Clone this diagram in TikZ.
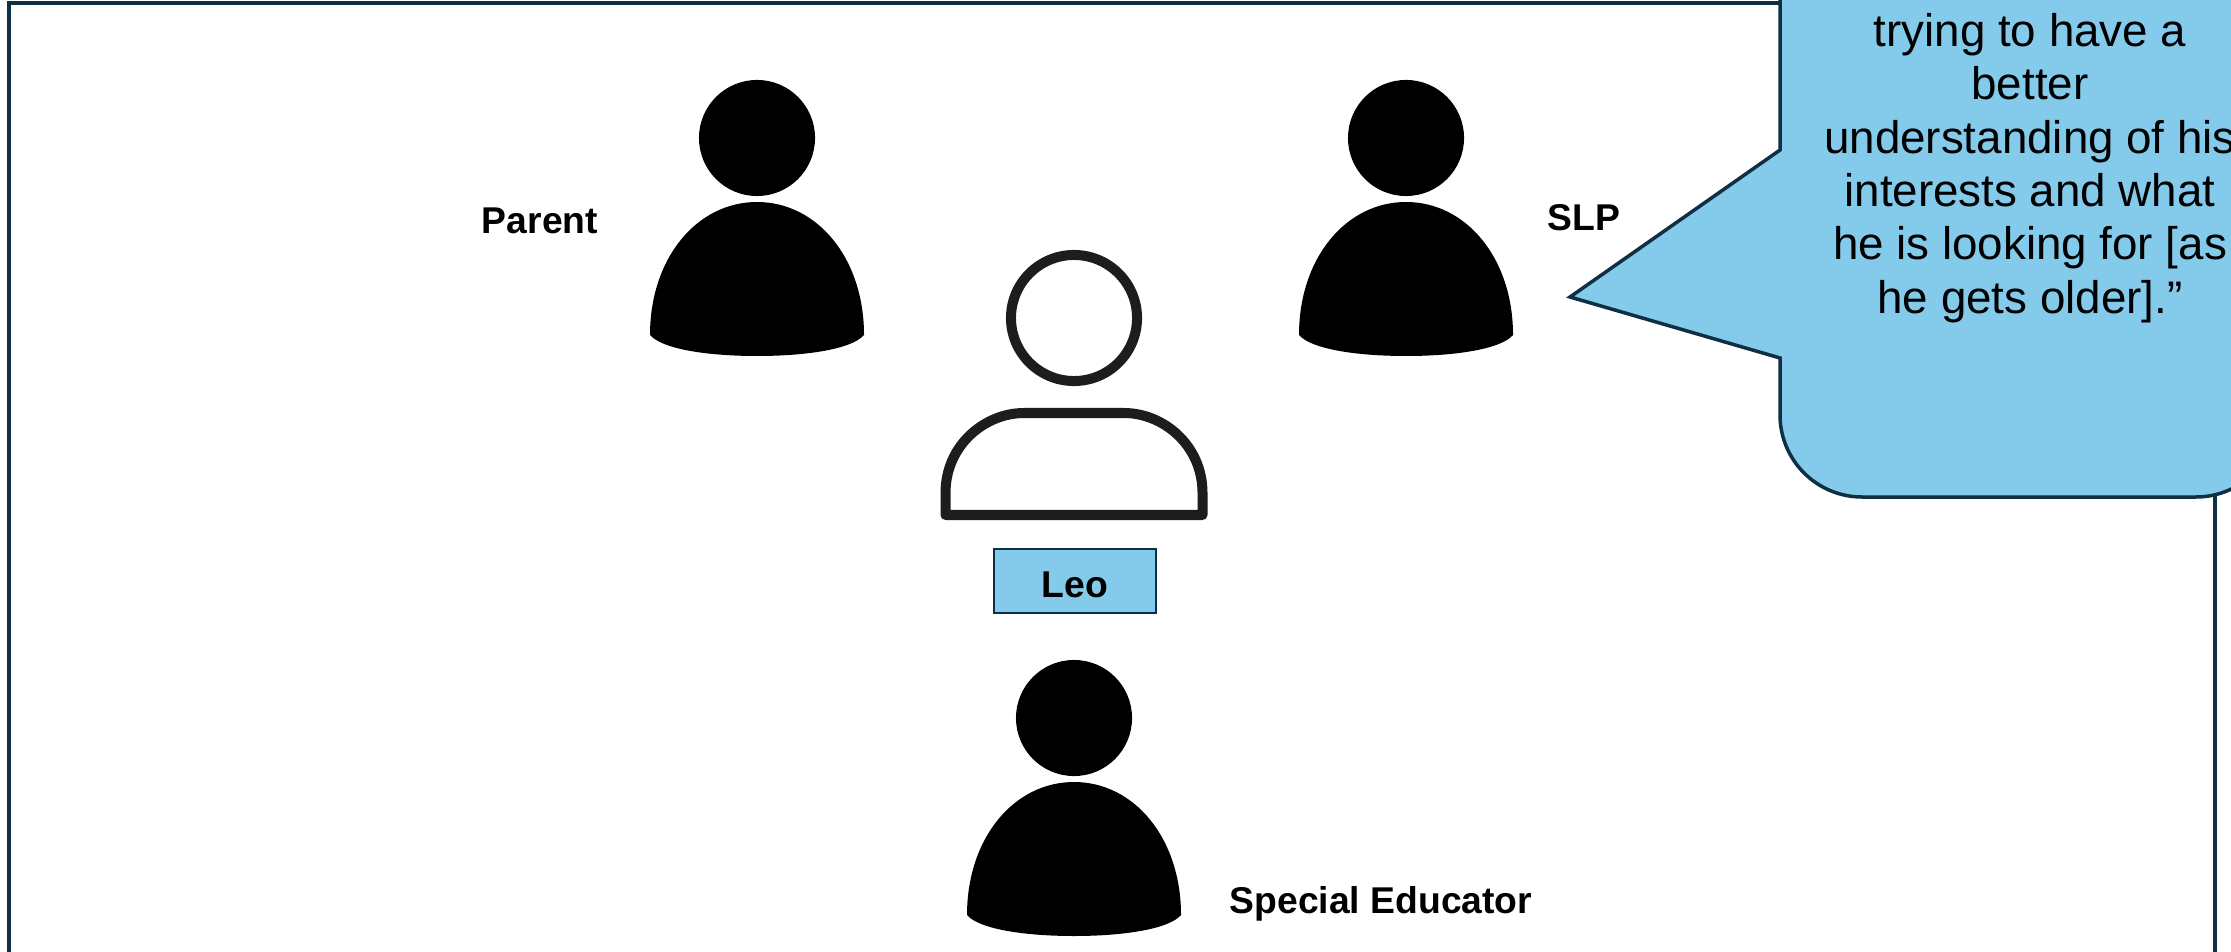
\documentclass[tikz,border=0pt]{standalone}
\usepackage{fontspec}
\setmainfont{Liberation Sans}
\definecolor{bubbleblue}{HTML}{83CAEB}
\definecolor{framenavy}{HTML}{0E2F44}
\definecolor{leoblack}{HTML}{1E1C1D}
\tikzset{
	filledperson/.pic={
		\node[circle,fill=black,inner sep=0pt,minimum size=1.16cm] (-head) at (0,0) {};
		\fill[black] (-107,197) .. controls (-107,120) and (-60,64) .. (0,64)
			.. controls (60,64) and (107,120) .. (107,197)
			.. controls (95,211) and (50,218) .. (0,218)
			.. controls (-50,218) and (-95,211) .. (-107,197) -- cycle;
	}
}

\begin{document}
\begin{tikzpicture}[x=0.01cm,y=-0.01cm]
		\tikzstyle{name label}=[font=\fontsize{10.6pt}{12.6pt}\selectfont\bfseries,text=black,inner sep=0pt]
		\tikzstyle{outline}=[draw=leoblack,line width=0.1cm,line join=round]
		\tikzstyle{bubble}=[draw=framenavy,line width=0.035cm,fill=bubbleblue,line join=miter]
		
		\clip (0,0) rectangle (2231,952);
		\fill[white] (0,0) rectangle (2231,952);
		\draw[draw=framenavy,line width=0.04cm] (9,3.5) rectangle (2215,1000);
		
		\pic (parent) at (757,138) {filledperson};
		\pic (slp) at (1406,138) {filledperson};
		\pic (educator) at (1074,718) {filledperson};
		
		\node[circle,outline,inner sep=0pt,minimum size=1.26cm] (leo_head) at (1074,318) {};
		\draw[outline] (945.5,515) -- (945.5,493) .. controls (945.5,445) and (985,413) .. (1024,413)
			-- (1124,413) .. controls (1163,413) and (1202.5,445) .. (1202.5,493) -- (1202.5,515) -- cycle;
		
		\node[name label] (parent_label) at (540,221) {Parent};
		\node[name label] (slp_label) at (1584,218) {SLP};
		\node[name label] (educator_label) at (1381,904) {Special Educator};
		\node[name label,draw=framenavy,line width=0.02cm,fill=bubbleblue,minimum width=1.61cm,minimum height=0.64cm,text height=0.325cm] (leo_label) at (1075,581) {Leo};
		
		\coordinate (tip) at (1570,297);
		\draw[bubble] (1780,-20) -- (1780,150) -- (tip) -- (1780,358)
			[rounded corners=0.82cm] -- (1780,497) -- (2278,497) -- (2278,-20);
		\node[align=center,inner sep=0pt,text=black,font=\fontsize{13pt}{15.2pt}\selectfont] (quote) at (2030,168)
			{trying to have a\\better\\understanding of his\\interests and what\\he is looking for [as\\he gets older].”};
	
	\end{tikzpicture}
\end{document}
